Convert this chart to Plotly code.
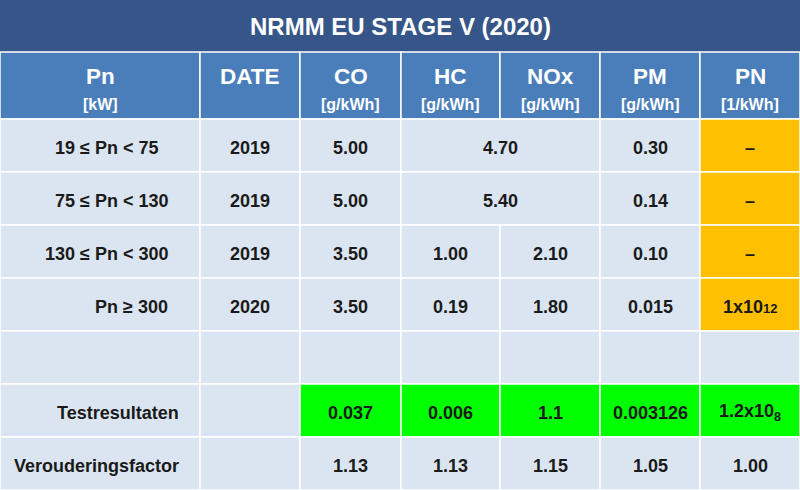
import plotly.graph_objects as go
import numpy as np

# table content
title = "NRMM EU STAGE V (2020)"
columns = ["Pn", "DATE", "CO", "HC", "NOx", "PM", "PN"]
units = ["[kW]", "", "[g/kWh]", "[g/kWh]", "[g/kWh]", "[g/kWh]", "[1/kWh]"]

pn_labels = ["19 \u2264 Pn < 75", "75 \u2264 Pn < 130", "130 \u2264 Pn < 300", "Pn \u2265 300",
             "", "Testresultaten", "Verouderingsfactor"]
dates = ["2019", "2019", "2019", "2020", "", "", ""]
co = ["5.00", "5.00", "3.50", "3.50", "", "0.037", "1.13"]
hc = [None, None, "1.00", "0.19", "", "0.006", "1.13"]
nox = [None, None, "2.10", "1.80", "", "1.1", "1.15"]
hc_nox = ["4.70", "5.40"]          # merged HC+NOx limit for the first two classes
pm = ["0.30", "0.14", "0.10", "0.015", "", "0.003126", "1.05"]
pn = ["\u2013", "\u2013", "\u2013", "1x10<span style='font-size:13px'>12</span>", "",
      "1.2x10<sub>8</sub>", "1.00"]

# geometry
W, H = 800, 490
col_w = [200, 100, 101, 99, 100, 100, 100]
title_h, head_h, row_h = 52, 67, 53
x_edges = np.concatenate([[0], np.cumsum(col_w)])
y_body = title_h + head_h + row_h * np.arange(len(pn_labels) + 1)

C_TITLE = "#365689"
C_HEAD = "#4a7ebb"
C_BODY = "#dbe5f1"
C_ORANGE = "#ffc000"
C_GREEN = "#00ff00"
C_TEXT = "#1a1a1a"
FONT = "Liberation Sans, Arial, sans-serif"

shapes = []
ann = []


def cell(x0, x1, y0, y1, color):
    shapes.append(dict(type="rect", x0=x0, x1=x1, y0=y0, y1=y1, xref="x", yref="y",
                       fillcolor=color, line=dict(color="white", width=1.5), layer="below"))


def txt(x, y, s, size, color=C_TEXT, anchor="center"):
    ann.append(dict(x=x, y=y, xref="x", yref="y", text=s, showarrow=False,
                    xanchor=anchor, yanchor="middle",
                    font=dict(family=FONT, size=size, color=color, weight="bold")))


# title bar
shapes.append(dict(type="rect", x0=0, x1=W, y0=0, y1=title_h, xref="x", yref="y",
                   fillcolor=C_TITLE, line=dict(width=0), layer="below"))
txt(W / 2, title_h / 2, title, 24, "white")

# header
for i, (c, u) in enumerate(zip(columns, units)):
    x0, x1 = x_edges[i], x_edges[i + 1]
    cell(x0, x1, title_h, title_h + head_h, C_HEAD)
    cx = (x0 + x1) / 2
    txt(cx, title_h + 24, c, 22.5, "white")
    if u:
        txt(cx, title_h + 52, u, 16, "white")

# body
label_right = [160, 170, 170, 170, 181, 181, 181]
for r in range(len(pn_labels)):
    y0, y1 = y_body[r], y_body[r + 1]
    cy = (y0 + y1) / 2 + 2
    row_vals = [pn_labels[r], dates[r], co[r], hc[r], nox[r], pm[r], pn[r]]
    for c in range(len(columns)):
        x0, x1 = x_edges[c], x_edges[c + 1]
        if c in (3, 4) and hc[r] is None:
            if c == 3:
                cell(x_edges[3], x_edges[5], y0, y1, C_BODY)
                txt((x_edges[3] + x_edges[5]) / 2, cy, hc_nox[r], 18)
            continue
        color = C_BODY
        if c == 6 and r < 4:
            color = C_ORANGE
        if pn_labels[r] == "Testresultaten" and c >= 2:
            color = C_GREEN
        cell(x0, x1, y0, y1, color)
        val = row_vals[c]
        if not val:
            continue
        if c == 0:
            txt(label_right[r], cy, val, 18, anchor="right")
        else:
            txt((x0 + x1) / 2, cy, val, 18)

fig = go.Figure()
fig.update_layout(
    width=W, height=H,
    margin=dict(l=0, r=0, t=0, b=0),
    paper_bgcolor=C_BODY, plot_bgcolor=C_BODY,
    xaxis=dict(range=[0, W], visible=False, fixedrange=True),
    yaxis=dict(range=[H, 0], visible=False, fixedrange=True),
    shapes=shapes, annotations=ann,
    showlegend=False,
)
fig.write_html("out.html", config={"displayModeBar": False},
               post_script="document.body.style.margin='0';")
